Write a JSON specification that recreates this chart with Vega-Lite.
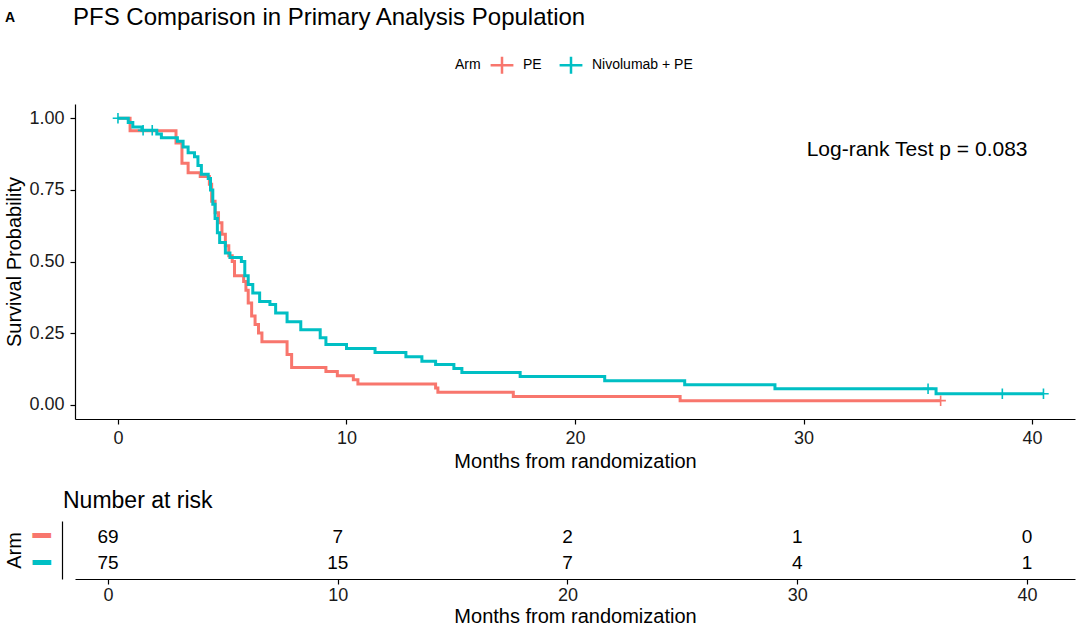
{
  "$schema": "https://vega.github.io/schema/vega-lite/v6.json",
  "padding": {"left": 4, "top": 6, "right": 5, "bottom": 2},
  "title": {"text": "A", "anchor": "start", "frame": "bounds", "fontSize": 14, "fontWeight": "bold", "offset": -11, "dy": 8},
  "datasets": {
    "curves": [
      {"arm": "PE", "month": 0, "surv": 1.0},
      {"arm": "PE", "month": 0.53, "surv": 0.957},
      {"arm": "PE", "month": 2.54, "surv": 0.914},
      {"arm": "PE", "month": 2.8, "surv": 0.843},
      {"arm": "PE", "month": 3.07, "surv": 0.81},
      {"arm": "PE", "month": 3.6, "surv": 0.797},
      {"arm": "PE", "month": 4.0, "surv": 0.77},
      {"arm": "PE", "month": 4.1, "surv": 0.71},
      {"arm": "PE", "month": 4.25, "surv": 0.67},
      {"arm": "PE", "month": 4.4, "surv": 0.635},
      {"arm": "PE", "month": 4.55, "surv": 0.595},
      {"arm": "PE", "month": 4.7, "surv": 0.555},
      {"arm": "PE", "month": 4.85, "surv": 0.52},
      {"arm": "PE", "month": 5.0, "surv": 0.5},
      {"arm": "PE", "month": 5.1, "surv": 0.45},
      {"arm": "PE", "month": 5.5, "surv": 0.43},
      {"arm": "PE", "month": 5.6, "surv": 0.4},
      {"arm": "PE", "month": 5.7, "surv": 0.355},
      {"arm": "PE", "month": 5.85, "surv": 0.31},
      {"arm": "PE", "month": 6.0, "surv": 0.28},
      {"arm": "PE", "month": 6.15, "surv": 0.25},
      {"arm": "PE", "month": 6.3, "surv": 0.22},
      {"arm": "PE", "month": 7.4, "surv": 0.175},
      {"arm": "PE", "month": 7.6, "surv": 0.13},
      {"arm": "PE", "month": 9.1, "surv": 0.116},
      {"arm": "PE", "month": 9.6, "surv": 0.101},
      {"arm": "PE", "month": 10.3, "surv": 0.087},
      {"arm": "PE", "month": 10.5, "surv": 0.072},
      {"arm": "PE", "month": 13.9, "surv": 0.058},
      {"arm": "PE", "month": 14.0, "surv": 0.043},
      {"arm": "PE", "month": 17.3, "surv": 0.029},
      {"arm": "PE", "month": 24.6, "surv": 0.014},
      {"arm": "PE", "month": 36.0, "surv": 0.014},
      {"arm": "Nivolumab + PE", "month": 0, "surv": 1.0},
      {"arm": "Nivolumab + PE", "month": 0.45, "surv": 0.985},
      {"arm": "Nivolumab + PE", "month": 0.65, "surv": 0.97},
      {"arm": "Nivolumab + PE", "month": 1.05, "surv": 0.958},
      {"arm": "Nivolumab + PE", "month": 1.7, "surv": 0.945},
      {"arm": "Nivolumab + PE", "month": 1.9, "surv": 0.932},
      {"arm": "Nivolumab + PE", "month": 2.6, "surv": 0.92},
      {"arm": "Nivolumab + PE", "month": 2.85, "surv": 0.9},
      {"arm": "Nivolumab + PE", "month": 3.07, "surv": 0.88},
      {"arm": "Nivolumab + PE", "month": 3.35, "surv": 0.866},
      {"arm": "Nivolumab + PE", "month": 3.5, "surv": 0.835},
      {"arm": "Nivolumab + PE", "month": 3.65, "surv": 0.805},
      {"arm": "Nivolumab + PE", "month": 3.95, "surv": 0.79},
      {"arm": "Nivolumab + PE", "month": 4.05, "surv": 0.75},
      {"arm": "Nivolumab + PE", "month": 4.15, "surv": 0.7},
      {"arm": "Nivolumab + PE", "month": 4.25, "surv": 0.65},
      {"arm": "Nivolumab + PE", "month": 4.35, "surv": 0.6},
      {"arm": "Nivolumab + PE", "month": 4.45, "surv": 0.566},
      {"arm": "Nivolumab + PE", "month": 4.7, "surv": 0.53},
      {"arm": "Nivolumab + PE", "month": 4.9, "surv": 0.514},
      {"arm": "Nivolumab + PE", "month": 5.4, "surv": 0.5},
      {"arm": "Nivolumab + PE", "month": 5.55, "surv": 0.45},
      {"arm": "Nivolumab + PE", "month": 5.7, "surv": 0.42},
      {"arm": "Nivolumab + PE", "month": 5.9, "surv": 0.39},
      {"arm": "Nivolumab + PE", "month": 6.2, "surv": 0.36},
      {"arm": "Nivolumab + PE", "month": 6.65, "surv": 0.35},
      {"arm": "Nivolumab + PE", "month": 6.9, "surv": 0.32},
      {"arm": "Nivolumab + PE", "month": 7.4, "surv": 0.29},
      {"arm": "Nivolumab + PE", "month": 8.0, "surv": 0.262},
      {"arm": "Nivolumab + PE", "month": 8.85, "surv": 0.234},
      {"arm": "Nivolumab + PE", "month": 9.1, "surv": 0.21},
      {"arm": "Nivolumab + PE", "month": 10.0, "surv": 0.196},
      {"arm": "Nivolumab + PE", "month": 11.25, "surv": 0.182},
      {"arm": "Nivolumab + PE", "month": 12.6, "surv": 0.167},
      {"arm": "Nivolumab + PE", "month": 13.3, "surv": 0.152},
      {"arm": "Nivolumab + PE", "month": 13.9, "surv": 0.14},
      {"arm": "Nivolumab + PE", "month": 14.7, "surv": 0.126},
      {"arm": "Nivolumab + PE", "month": 15.05, "surv": 0.112},
      {"arm": "Nivolumab + PE", "month": 17.6, "surv": 0.098},
      {"arm": "Nivolumab + PE", "month": 21.3, "surv": 0.084},
      {"arm": "Nivolumab + PE", "month": 24.8, "surv": 0.07},
      {"arm": "Nivolumab + PE", "month": 28.75, "surv": 0.056},
      {"arm": "Nivolumab + PE", "month": 35.8, "surv": 0.038},
      {"arm": "Nivolumab + PE", "month": 40.5, "surv": 0.038}
    ],
    "censors": [
      {"arm": "Nivolumab + PE", "month": 0, "surv": 1.0},
      {"arm": "Nivolumab + PE", "month": 1.1, "surv": 0.958},
      {"arm": "Nivolumab + PE", "month": 1.5, "surv": 0.958},
      {"arm": "Nivolumab + PE", "month": 35.45, "surv": 0.056},
      {"arm": "Nivolumab + PE", "month": 38.7, "surv": 0.038},
      {"arm": "Nivolumab + PE", "month": 40.5, "surv": 0.038},
      {"arm": "PE", "month": 36.0, "surv": 0.014}
    ],
    "risk": [
      {"arm": "PE", "month": 0, "n": 69},
      {"arm": "PE", "month": 10, "n": 7},
      {"arm": "PE", "month": 20, "n": 2},
      {"arm": "PE", "month": 30, "n": 1},
      {"arm": "PE", "month": 40, "n": 0},
      {"arm": "Nivolumab + PE", "month": 0, "n": 75},
      {"arm": "Nivolumab + PE", "month": 10, "n": 15},
      {"arm": "Nivolumab + PE", "month": 20, "n": 7},
      {"arm": "Nivolumab + PE", "month": 30, "n": 4},
      {"arm": "Nivolumab + PE", "month": 40, "n": 1}
    ]
  },
  "spacing": 19,
  "vconcat": [
    {
      "width": 1000,
      "height": 315,
      "title": {"text": "PFS Comparison in Primary Analysis Population", "anchor": "start", "frame": "group", "fontSize": 24, "offset": 22, "dx": -2},
      "layer": [
        {
          "data": {"name": "curves"},
          "mark": {"type": "line", "interpolate": "step-after", "strokeWidth": 3},
          "encoding": {
            "x": {"field": "month", "type": "quantitative",
                  "scale": {"domain": [-1.88, 41.88], "nice": false, "zero": false},
                  "axis": {"values": [0, 10, 20, 30, 40], "title": "Months from randomization", "tickSize": 5, "labelPadding": 5, "titlePadding": 4, "labelFlush": false}},
            "y": {"field": "surv", "type": "quantitative",
                  "scale": {"domain": [-0.05, 1.05], "nice": false, "zero": false},
                  "axis": {"values": [0, 0.25, 0.5, 0.75, 1], "format": ".2f", "title": "Survival Probability", "tickSize": 5, "labelPadding": 6, "titlePadding": 4, "labelFlush": false}},
            "color": {"field": "arm", "type": "nominal",
                      "scale": {"domain": ["PE", "Nivolumab + PE"], "range": ["#F8766D", "#00BFC4"]},
                      "legend": {"orient": "none", "legendX": 380, "legendY": -52, "direction": "horizontal", "title": "Arm", "titleOrient": "left", "titleFontSize": 14, "titleFontWeight": "normal", "titleColor": "black", "titlePadding": 8, "labelFontSize": 14, "labelColor": "black", "symbolType": "M-1,0L1,0M0,-0.75L0,0.75", "symbolSize": 520, "symbolStrokeWidth": 2.5, "symbolFillColor": "transparent", "labelOffset": 8, "columnPadding": 12}}
          }
        },
        {
          "data": {"name": "censors"},
          "mark": {"type": "point", "shape": "M-1,0L1,0M0,-1L0,1", "filled": false, "size": 110, "strokeWidth": 1.6, "opacity": 1},
          "encoding": {
            "x": {"field": "month", "type": "quantitative"},
            "y": {"field": "surv", "type": "quantitative"},
            "color": {"field": "arm", "type": "nominal"}
          }
        },
        {
          "data": {"values": [{"label": "Log-rank Test p = 0.083"}]},
          "mark": {"type": "text", "fontSize": 21, "color": "black"},
          "encoding": {
            "x": {"datum": 34.97},
            "y": {"datum": 0.89},
            "text": {"field": "label"}
          }
        }
      ]
    },
    {
      "width": 1000,
      "height": 58,
      "data": {"name": "risk"},
      "title": {"text": "Number at risk", "anchor": "start", "frame": "group", "fontSize": 23, "offset": 8, "dx": -12},
      "mark": {"type": "text", "fontSize": 19, "color": "black"},
      "encoding": {
        "x": {"field": "month", "type": "quantitative",
              "scale": {"domain": [-1.436, 42.09], "nice": false, "zero": false},
              "axis": {"values": [0, 10, 20, 30, 40], "title": "Months from randomization", "tickSize": 5, "labelPadding": 2, "titlePadding": 2, "labelFlush": false}},
        "y": {"field": "arm", "type": "nominal", "sort": ["PE", "Nivolumab + PE"],
              "scale": {"type": "point", "padding": 0.6},
              "axis": {"title": "Arm", "offset": 13, "ticks": false, "tickSize": 0, "labelExpr": "'━'", "labelFont": "DejaVu Sans", "labelFontSize": 30, "labelOverlap": false,
                       "labelColor": {"condition": {"test": "datum.value == 'PE'", "value": "#F8766D"}, "value": "#00BFC4"},
                       "labelPadding": 12, "titlePadding": 7}},
        "text": {"field": "n", "type": "quantitative"}
      }
    }
  ],
  "resolve": {"scale": {"x": "independent", "y": "independent", "color": "independent"}, "legend": {"color": "independent"}},
  "config": {
    "font": "Liberation Sans",
    "view": {"stroke": null},
    "axis": {"grid": false, "domainColor": "black", "domainWidth": 1.2, "tickColor": "black", "tickWidth": 1.2, "labelColor": "#1a1a1a", "titleColor": "black", "labelFontSize": 18, "titleFontSize": 20, "titleFontWeight": "normal", "labelFont": "Liberation Sans", "titleFont": "Liberation Sans"},
    "title": {"font": "Liberation Sans", "fontWeight": "normal", "color": "black"},
    "legend": {"labelFont": "Liberation Sans", "titleFont": "Liberation Sans"}
  }
}
